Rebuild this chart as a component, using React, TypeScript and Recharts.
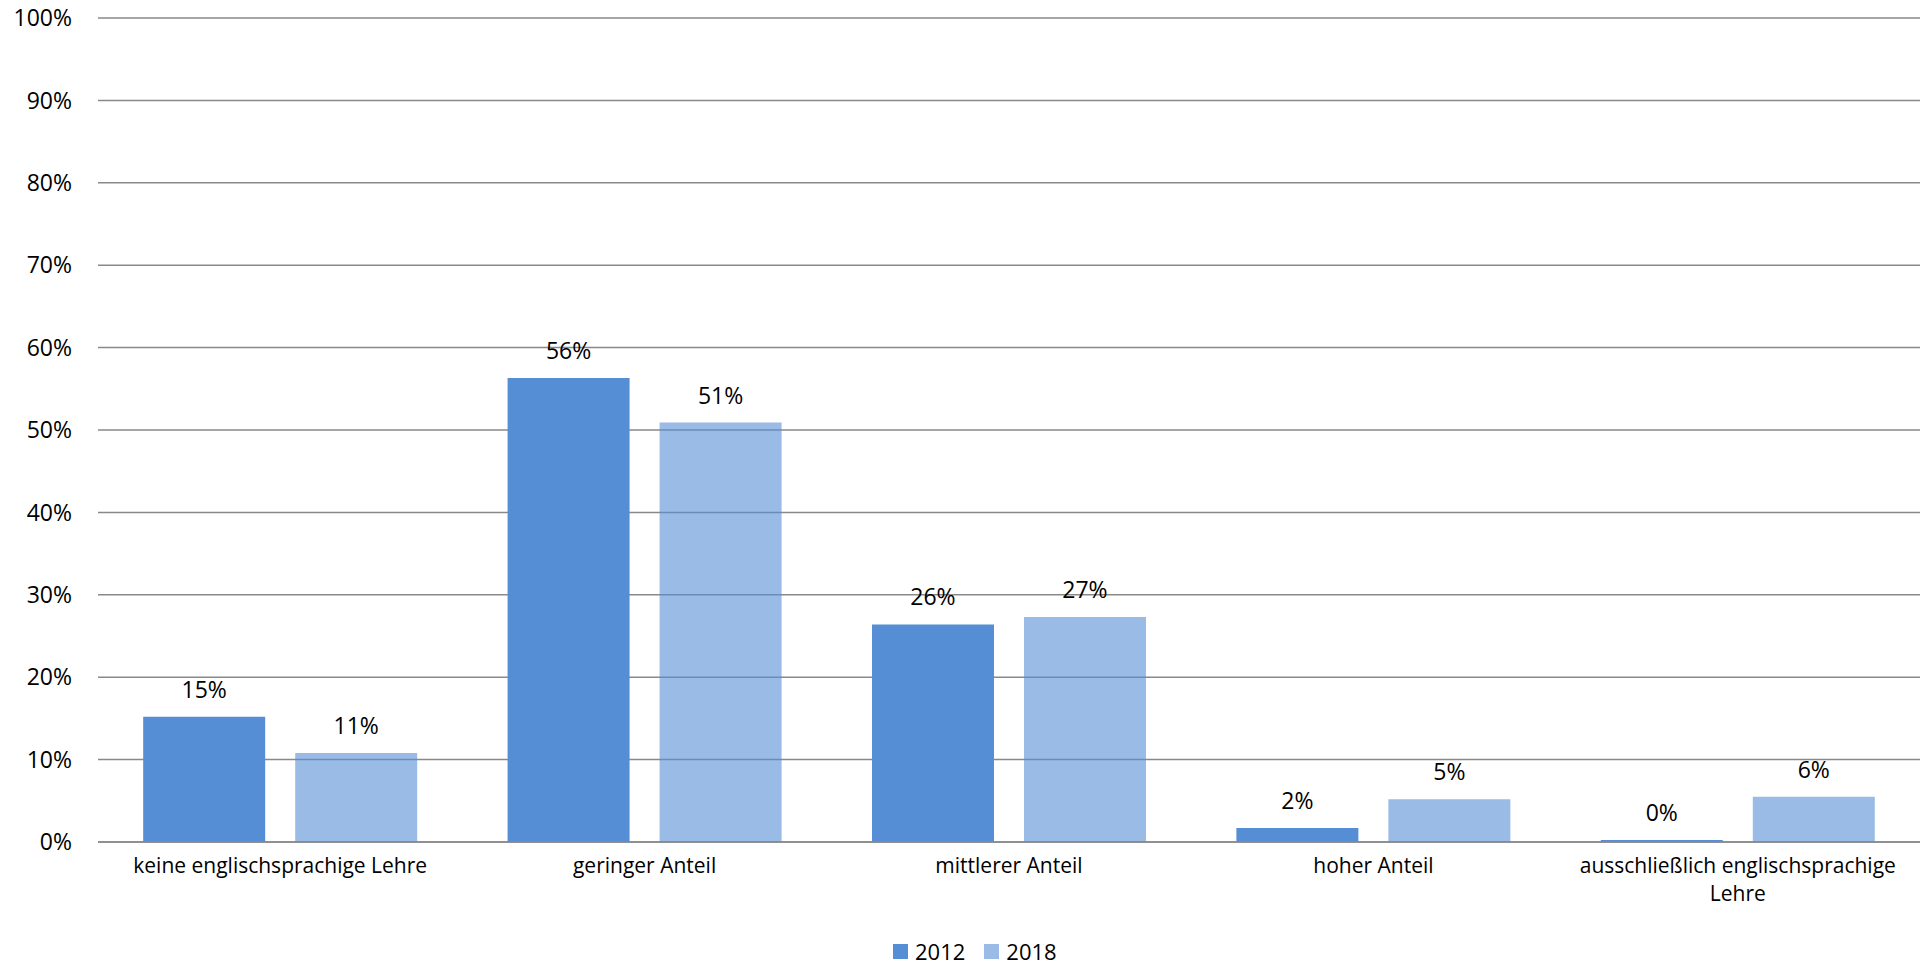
import React from 'react';
import { BarChart, Bar, XAxis, YAxis, CartesianGrid, Legend, LabelList } from 'recharts';

const categories = [
  'keine englischsprachige Lehre',
  'geringer Anteil',
  'mittlerer Anteil',
  'hoher Anteil',
  'ausschließlich englischsprachige\nLehre',
];
const values2012 = [15.2, 56.3, 26.4, 1.7, 0.25];
const values2018 = [10.8, 50.9, 27.3, 5.2, 5.5];
const yTicks = [0, 10, 20, 30, 40, 50, 60, 70, 80, 90, 100];
const boundaryTicks = [0, 1, 2, 3, 4, 5];

const SERIES = [
  { key: 'y2012', name: '2012', fill: '#558ED5', opacity: 1 },
  { key: 'y2018', name: '2018', fill: '#558ED5', opacity: 0.6 },
];

const data = categories.map((c, i) => ({ cat: c, y2012: values2012[i], y2018: values2018[i] }));

const FONT = '"Open Sans", sans-serif';
const GRID = '#898989';

const CatTick = (props: any) => {
  const { x, y, payload } = props;
  const lines = String(payload.value).split('\n');
  return (
    <text x={x} y={y} textAnchor="middle" fontSize={21} fill="#000" fontFamily={FONT}>
      {lines.map((l, i) => (
        <tspan key={i} x={x} dy={i === 0 ? 22 : 28}>
          {l}
        </tspan>
      ))}
    </text>
  );
};

const LegendContent = () => (
  <div style={{ display: 'flex', alignItems: 'center', fontFamily: FONT, fontSize: 22, color: '#000' }}>
    {SERIES.map((s, i) => (
      <div key={s.key} style={{ display: 'flex', alignItems: 'center', marginRight: i === 0 ? 19 : 0 }}>
        <div style={{ width: 15, height: 15, background: s.fill, opacity: s.opacity, marginRight: 7 }} />
        <span style={{ lineHeight: '22px' }}>{s.name}</span>
      </div>
    ))}
  </div>
);

export default function App() {
  return (
    <div style={{ position: 'absolute', left: 0, top: 0, width: 1926, height: 965, background: '#fff' }}>
      <BarChart
        width={1926}
        height={965}
        data={data}
        margin={{ top: 18, right: 6, left: 0, bottom: 54 }}
        barCategoryGap="12.4%"
        barGap={30}
      >
        <CartesianGrid horizontal vertical={false} stroke={GRID} strokeWidth={1.5} xAxisId="cat" yAxisId="v" />
        <XAxis
          xAxisId="bnd"
          type="number"
          domain={[0, 5]}
          allowDataOverflow
          ticks={boundaryTicks}
          tick={false}
          tickSize={8}
          height={9}
          axisLine={{ stroke: GRID, strokeWidth: 1.5 }}
          tickLine={{ stroke: GRID, strokeWidth: 1.5 }}
        />
        <XAxis
          xAxisId="cat"
          dataKey="cat"
          type="category"
          height={60}
          axisLine={false}
          tickLine={false}
          tickSize={0}
          tickMargin={0}
          interval={0}
          tick={<CatTick />}
        />
        <YAxis
          yAxisId="v"
          width={98}
          domain={[0, 100]}
          ticks={yTicks}
          interval={0}
          axisLine={false}
          tickLine={false}
          tickSize={6}
          tickMargin={20}
          tickFormatter={(v: number) => `${v}%`}
          tick={{ fontSize: 23, fill: '#000', fontFamily: FONT }}
        />
        <Legend
          verticalAlign="middle"
          align="center"
          layout="horizontal"
          wrapperStyle={{ top: 940, left: 893, width: 240, height: 22 }}
          content={<LegendContent />}
        />
        {SERIES.map((s) => (
          <Bar
            key={s.key}
            dataKey={s.key}
            name={s.name}
            xAxisId="cat"
            yAxisId="v"
            fill={s.fill}
            fillOpacity={s.opacity}
            isAnimationActive={false}
          >
            <LabelList
              dataKey={s.key}
              position="top"
              offset={19}
              formatter={(v: any) => `${Math.round(Number(v))}%`}
              style={{ fontSize: 23, fill: '#000', fontFamily: FONT }}
            />
          </Bar>
        ))}
      </BarChart>
    </div>
  );
}
